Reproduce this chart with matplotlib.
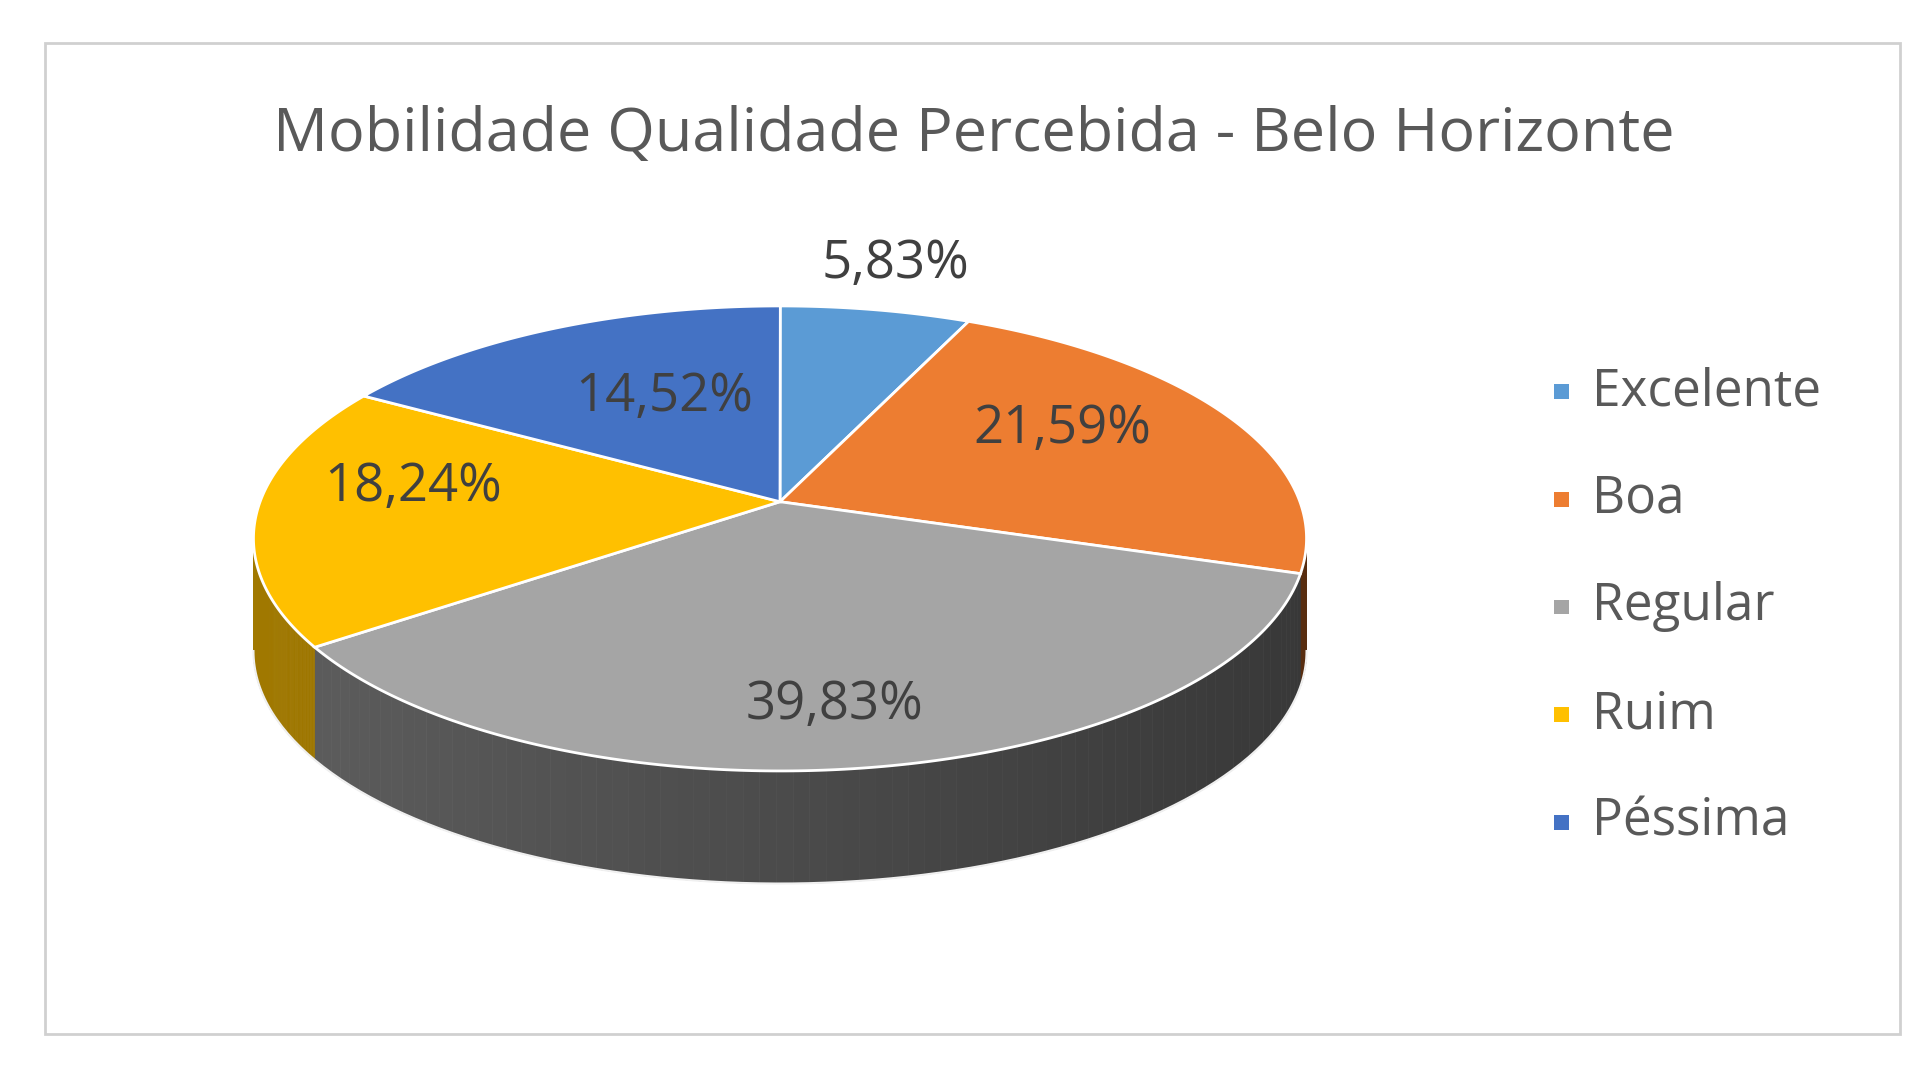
import numpy as np
import matplotlib.pyplot as plt
from matplotlib.patches import Polygon, Rectangle

categories = ["Excelente", "Boa", "Regular", "Ruim", "Péssima"]
values = [5.83, 21.59, 39.83, 18.24, 14.52]
labels = ["5,83%", "21,59%", "39,83%", "18,24%", "14,52%"]
colors = ["#5b9bd5", "#ed7d31", "#a5a5a5", "#ffc000", "#4472c4"]
side_colors = ["#3f6e99", "#b05a20", "#707070", "#c09000", "#2f5597"]
label_r = [1.2, 0.62, 0.62, 0.7, 0.5]

W, H = 1568, 885
plt.rcParams['font.family'] = ['Open Sans', 'DejaVu Sans']
fig = plt.figure(figsize=(19.2, 10.83), dpi=100)
ax = fig.add_axes([0, 0, 1, 1])
ax.set_xlim(0, W)
ax.set_ylim(H, 0)
ax.axis('off')

ax.add_patch(Rectangle((37, 35), 1515, 810, fill=False, ec="#d0d0d0", lw=2))

cx, cy, rx, ry, depth = 637, 440, 430, 190, 92
tx, ty = 637, 410  # convergence point of wedges


def pt(t):
    return cx + rx * np.sin(t), cy - ry * np.cos(t)

bounds = np.concatenate([[0], np.cumsum(values)]) / 100 * 2 * np.pi

# side (front half only)
for i in range(len(values)):
    a0, a1 = max(bounds[i], np.pi / 2), min(bounds[i + 1], 3 * np.pi / 2)
    if a1 <= a0:
        continue
    ts = np.linspace(a0, a1, 80)
    base = np.array(plt.matplotlib.colors.to_rgb(side_colors[i]))
    for k in range(len(ts) - 1):
        t0, t1 = ts[k], ts[k + 1]
        x0, y0 = pt(t0)
        x1, y1 = pt(t1)
        shade = 0.55 + 0.45 * (np.sin((t0 + t1) / 2) + 1) / 2
        c = np.clip(base * (1.25 - 0.75 * shade), 0, 1)
        ax.add_patch(Polygon([(x0, y0), (x1, y1), (x1, y1 + depth), (x0, y0 + depth)],
                             closed=True, fc=c, ec=c, lw=0.5))
ts = np.linspace(np.pi / 2, 3 * np.pi / 2, 200)
ax.plot(cx + rx * np.sin(ts), cy - ry * np.cos(ts) + depth, color="#f0f0f0", lw=1.5)

# top
for i in range(len(values)):
    ts = np.linspace(bounds[i], bounds[i + 1], 200)
    xs = cx + rx * np.sin(ts)
    ys = cy - ry * np.cos(ts)
    poly = [(tx, ty)] + list(zip(xs, ys))
    ax.add_patch(Polygon(poly, closed=True, fc=colors[i], ec="white", lw=2))

for i, lab in enumerate(labels):
    m = (bounds[i] + bounds[i + 1]) / 2
    x = tx + rx * label_r[i] * np.sin(m)
    y = (ty if label_r[i] < 1 else cy) - ry * label_r[i] * np.cos(m) + (50 if label_r[i] < 1 and np.cos(m) < 0 else 0)
    ax.text(x, y, lab, fontsize=38, color="#404040", ha="center", va="center")

ax.text(795, 110, "Mobilidade Qualidade Percebida - Belo Horizonte", fontsize=44,
        color="#595959", ha="center", va="center")

for i, cat in enumerate(categories):
    y = 320 + i * 88
    ax.add_patch(Rectangle((1269, y - 6), 12, 12, fc=colors[i], ec="none"))
    ax.text(1300, y, cat, fontsize=37, color="#595959", ha="left", va="center")

fig.savefig("out.png", dpi=100, facecolor="white")
